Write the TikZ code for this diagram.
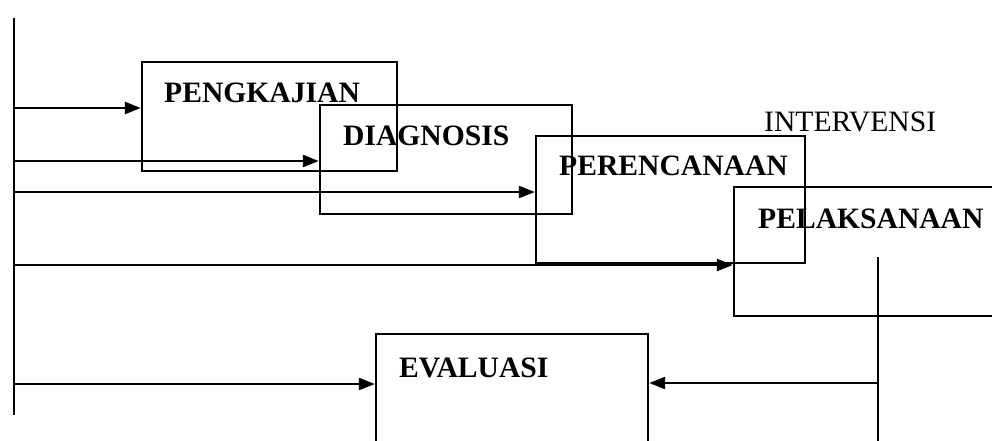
\documentclass[tikz,border=0pt]{standalone}
\usepackage{fontspec}
\setmainfont{Liberation Serif}
\usetikzlibrary{arrows.meta,fit}
\begin{document}
\begin{tikzpicture}[x=0.5pt,y=-0.5pt,
  line width=1.2pt,
  box/.style={draw,line width=1.2pt,inner sep=0pt,rectangle},
  title/.style={font=\fontsize{14.8}{16}\selectfont\bfseries,anchor=base west,inner sep=0pt},
  plain/.style={font=\fontsize{14.8}{16}\selectfont,anchor=base west,inner sep=0pt},
  flow/.style={-{Triangle[length=8pt,width=6pt]}}]
\clip (0,0) rectangle (992,440);
\fill[white] (0,0) rectangle (992,440);

% stage boxes
\node[box,fit={(142,62)(397,171)}] (pengkajian) {};
\node[box,fit={(320,105)(572,214)}] (diagnosis) {};
\node[box,fit={(536,136)(805,263)}] (perencanaan) {};
\node[box,fit={(734,187)(1010,316)}] (pelaksanaan) {};
\node[box,fit={(376,334)(648,460)}] (evaluasi) {};

% box titles
\node[title] (tPengkajian) at (163,102) {PENGKAJIAN};
\node[title] (tDiagnosis) at (342,145) {DIAGNOSIS};
\node[title] (tPerencanaan) at (558,175) {PERENCANAAN};
\node[title] (tPelaksanaan) at (757,228) {PELAKSANAAN};
\node[title] (tEvaluasi) at (398,377) {EVALUASI};
\node[plain] (tIntervensi) at (763,131) {INTERVENSI};

% left feed line and its branches
\coordinate (spineTop) at (14,18);
\coordinate (spineBot) at (14,415);
\draw (spineTop) -- (spineBot);
\coordinate (s1) at (14,108);
\coordinate (s2) at (14,161);
\coordinate (s3) at (14,192);
\coordinate (s4) at (14,265);
\coordinate (s5) at (14,384);
\draw[flow] (s1) -- (pengkajian.west |- s1);
\draw[flow] (s2) -- (diagnosis.west |- s2);
\draw[flow] (s3) -- (perencanaan.west |- s3);
\draw[flow] (s4) -- (pelaksanaan.west |- s4);
\draw[flow] (s5) -- (evaluasi.west |- s5);

% return path into evaluation
\coordinate (dropTop) at (878,257);
\coordinate (dropBot) at (878,445);
\coordinate (join) at (878,383);
\draw (dropTop) -- (dropBot);
\draw[flow] (join) -- (evaluasi.east |- join);
\end{tikzpicture}
\end{document}
